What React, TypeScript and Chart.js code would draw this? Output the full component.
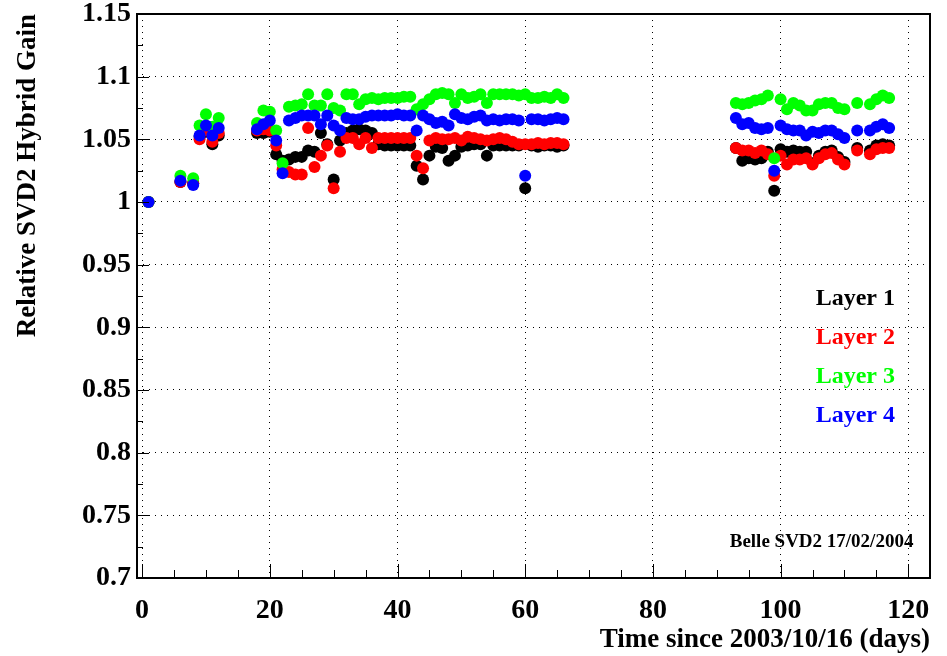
import React, { useEffect, useRef } from "react";
import { Chart, registerables } from "chart.js";

Chart.register(...registerables);

// ---- data ----
const days = [
  1, 6, 8, 9, 10, 11, 12,
  18, 19, 20, 21, 22, 23, 24, 25, 26, 27, 28, 29, 30, 31, 32, 33, 34, 35, 36, 37, 38, 39, 40, 41, 42,
  43, 44, 45, 46, 47, 48, 49, 50, 51, 52, 53, 54, 55, 56, 57, 58, 59, 60, 61, 62, 63, 64, 65, 66,
  93, 94, 95, 96, 97, 98, 99, 100, 101, 102, 103, 104, 105, 106, 107, 108, 109, 110, 112, 114, 115, 116, 117,
];

const layer1 = [
  1.0, 1.016, 1.015, 1.052, 1.056, 1.046, 1.053,
  1.055, 1.055, 1.056, 1.038, 1.033, 1.034, 1.036, 1.036, 1.041, 1.04, 1.055, 1.046, 1.018, 1.049, 1.055, 1.057, 1.058, 1.057, 1.055, 1.046, 1.045, 1.045, 1.045, 1.045, 1.045,
  1.029, 1.018, 1.037, 1.044, 1.043, 1.033, 1.037, 1.044, 1.045, 1.046, 1.046, 1.037, 1.045, 1.045, 1.045, 1.045, 1.045, 1.011, 1.045, 1.044, 1.045, 1.045, 1.044, 1.045,
  1.043, 1.033, 1.035, 1.034, 1.035, 1.04, 1.009, 1.042, 1.04, 1.041, 1.04, 1.04, 1.031, 1.037, 1.04, 1.041, 1.036, 1.032, 1.043, 1.041, 1.045, 1.046, 1.045,
];

const layer2 = [
  1.0, 1.016, 1.015, 1.05, 1.057, 1.048, 1.055,
  1.057, 1.058, 1.057, 1.045, 1.026, 1.024, 1.022, 1.022, 1.059, 1.028, 1.037, 1.045, 1.011, 1.04, 1.051, 1.051, 1.046, 1.051, 1.043, 1.051, 1.051, 1.051, 1.051, 1.051, 1.051,
  1.037, 1.027, 1.049, 1.051, 1.05, 1.05, 1.051, 1.049, 1.052, 1.051, 1.05, 1.049, 1.05, 1.051, 1.05, 1.048, 1.046, 1.046, 1.046, 1.047, 1.046, 1.047, 1.047, 1.046,
  1.043, 1.041, 1.041, 1.039, 1.041, 1.038, 1.021, 1.037, 1.03, 1.034, 1.034, 1.035, 1.03, 1.035, 1.038, 1.039, 1.034, 1.03, 1.041, 1.038, 1.042, 1.043, 1.043,
];

const layer3 = [
  1.0, 1.021, 1.019, 1.061, 1.07, 1.06, 1.067,
  1.063, 1.073, 1.072, 1.057, 1.031, 1.076, 1.077, 1.078, 1.086, 1.077, 1.077, 1.086, 1.075, 1.073, 1.086, 1.086, 1.078, 1.082, 1.083, 1.082, 1.083, 1.083, 1.083, 1.084, 1.084,
  1.074, 1.078, 1.082, 1.086, 1.087, 1.086, 1.079, 1.086, 1.083, 1.084, 1.086, 1.079, 1.086, 1.086, 1.086, 1.086, 1.085, 1.086, 1.083, 1.083, 1.084, 1.083, 1.086, 1.083,
  1.079, 1.078, 1.079, 1.081, 1.082, 1.085, 1.035, 1.082, 1.074, 1.079, 1.077, 1.073, 1.073, 1.078, 1.079, 1.079, 1.075, 1.074, 1.079, 1.078, 1.082, 1.085, 1.083,
];

const layer4 = [
  1.0, 1.017, 1.0135, 1.053, 1.061, 1.053, 1.059,
  1.058, 1.062, 1.065, 1.049, 1.023, 1.065, 1.067, 1.069, 1.069, 1.069, 1.062, 1.069, 1.061, 1.057, 1.067, 1.066, 1.066, 1.068, 1.069, 1.069, 1.069, 1.069, 1.07, 1.069, 1.069,
  1.057, 1.069, 1.066, 1.063, 1.064, 1.061, 1.07, 1.067, 1.066, 1.068, 1.069, 1.065, 1.066, 1.065, 1.066, 1.066, 1.065, 1.021, 1.066, 1.066, 1.065, 1.066, 1.067, 1.066,
  1.067, 1.062, 1.063, 1.059, 1.058, 1.059, 1.025, 1.061, 1.058, 1.057, 1.057, 1.053, 1.056, 1.055, 1.057, 1.057, 1.054, 1.051, 1.057, 1.057, 1.06, 1.062, 1.059,
];

const layerNames = ["Layer 1", "Layer 2", "Layer 3", "Layer 4"];
const layerColors = ["#000000", "#ff0000", "#00ff00", "#0000ff"];
const layerValues = [layer1, layer2, layer3, layer4];

const xTickValues = [0, 20, 40, 60, 80, 100, 120];
const yTickValues = [0.7, 0.75, 0.8, 0.85, 0.9, 0.95, 1.0, 1.05, 1.1, 1.15];
const xTitle = "Time since 2003/10/16 (days)";
const yTitle = "Relative SVD2 Hybrid Gain";
const stampText = "Belle SVD2 17/02/2004";

const FONT = "'Liberation Serif', 'Times New Roman', serif";

const framePlugin = {
  id: "rootFrame",
  afterDraw(chart: any) {
    const { ctx, chartArea } = chart;
    const { left, right, top, bottom } = chartArea;
    const xs = chart.scales.x;
    const ys = chart.scales.y;
    ctx.save();
    ctx.strokeStyle = "#000";
    ctx.lineWidth = 1;
    ctx.beginPath();
    for (let v = 0; v <= 120; v += 5) {
      const px = Math.round(xs.getPixelForValue(v)) + 0.5;
      const len = v % 20 === 0 ? 14 : 8;
      ctx.moveTo(px, bottom);
      ctx.lineTo(px, bottom - len);
    }
    for (let i = 0; i <= 18; i++) {
      const v = 0.7 + i * 0.025;
      const py = Math.round(ys.getPixelForValue(v)) + 0.5;
      const len = i % 2 === 0 ? 12 : 6;
      ctx.moveTo(left, py);
      ctx.lineTo(left + len, py);
    }
    ctx.stroke();
    ctx.lineWidth = 2;
    ctx.strokeRect(left, top, right - left, bottom - top);

    ctx.font = `bold 24px ${FONT}`;
    ctx.textAlign = "left";
    ctx.textBaseline = "middle";
    const lx = xs.getPixelForValue(105.5);
    const ly0 = ys.getPixelForValue(0.9226);
    const dy = ys.getPixelForValue(0.9) - ys.getPixelForValue(0.931);
    layerNames.forEach((name, i) => {
      ctx.fillStyle = layerColors[i];
      ctx.fillText(name, lx, ly0 + i * dy);
    });

    ctx.font = `bold 19px ${FONT}`;
    ctx.fillStyle = "#000";
    ctx.textAlign = "right";
    ctx.fillText(stampText, xs.getPixelForValue(120.8), ys.getPixelForValue(0.729));
    ctx.restore();
  },
};

export default function App() {
  const canvasRef = useRef<HTMLCanvasElement | null>(null);

  useEffect(() => {
    const canvas = canvasRef.current;
    if (!canvas) return;
    const datasets = layerNames.map((name, i) => ({
      label: name,
      data: days.map((d, j) => ({ x: d, y: layerValues[i][j] })),
      backgroundColor: layerColors[i],
      borderColor: layerColors[i],
      borderWidth: 0,
      pointRadius: 6,
      pointHoverRadius: 6,
      showLine: false,
      order: 4 - i,
    }));

    const chart = new Chart(canvas, {
      type: "scatter",
      data: { datasets },
      options: {
        animation: false,
        responsive: false,
        devicePixelRatio: 1,
        layout: { padding: { left: 0, top: 14, right: 17, bottom: 0 } },
        plugins: {
          legend: { display: false },
          tooltip: { enabled: false },
          title: { display: false },
        },
        scales: {
          x: {
            type: "linear",
            min: -0.8,
            max: 123.4,
            afterBuildTicks: (s: any) => {
              s.ticks = xTickValues.map((v) => ({ value: v }));
            },
            afterFit: (s: any) => {
              s.height = 78;
              s.paddingLeft = 0;
              s.paddingRight = 0;
            },
            grid: { color: "#000", lineWidth: 1, drawTicks: false },
            border: { display: false, dash: [1, 5] },
            ticks: {
              autoSkip: false,
              maxRotation: 0,
              padding: 16,
              color: "#000",
              font: { family: FONT, size: 28, weight: "bold" },
              callback: (v: any) => String(v),
            },
            title: {
              display: true,
              text: xTitle,
              align: "end",
              color: "#000",
              font: { family: FONT, size: 27, weight: "bold", lineHeight: 1.2 },
              padding: { top: 0, bottom: 0 },
            },
          },
          y: {
            type: "linear",
            min: 0.7,
            max: 1.15,
            afterBuildTicks: (s: any) => {
              s.ticks = yTickValues.map((v) => ({ value: v }));
            },
            afterFit: (s: any) => {
              s.width = 137;
              s.paddingTop = 0;
              s.paddingBottom = 0;
            },
            grid: { color: "#000", lineWidth: 1, drawTicks: false },
            border: { display: false, dash: [1, 5] },
            ticks: {
              autoSkip: false,
              padding: 6,
              color: "#000",
              font: { family: FONT, size: 28, weight: "bold" },
              callback: (v: any) => String(Number(Number(v).toFixed(2))),
            },
            title: {
              display: true,
              text: yTitle,
              align: "end",
              color: "#000",
              font: { family: FONT, size: 27, weight: "bold", lineHeight: 1.2 },
              padding: { top: 12, bottom: 0 },
            },
          },
        },
      },
      plugins: [framePlugin],
    } as any);

    return () => chart.destroy();
  }, []);

  return (
    <div style={{ position: "absolute", left: 0, top: 0, width: 947, height: 656, background: "#fff" }}>
      <canvas ref={canvasRef} width={947} height={656} />
    </div>
  );
}
